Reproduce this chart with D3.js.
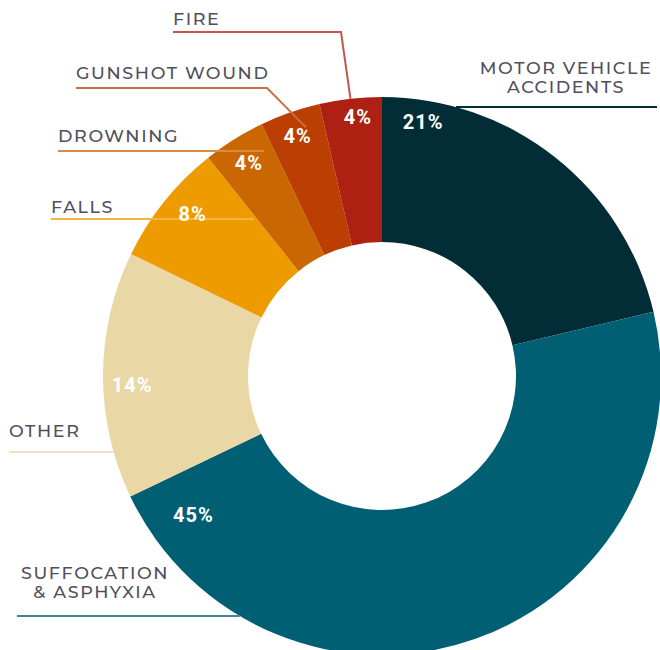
<!DOCTYPE html>
<html>
<head>
<meta charset="utf-8">
<script src="https://cdn.jsdelivr.net/npm/d3@7"></script>
<style>
  html, body { margin: 0; padding: 0; background: #fff; }
  svg { display: block; }
</style>
</head>
<body>
<div class="container"></div>
<script>
const categories = ['MOTOR VEHICLE ACCIDENTS', 'SUFFOCATION & ASPHYXIA', 'OTHER', 'FALLS', 'DROWNING', 'GUNSHOT WOUND', 'FIRE'];
const shares = [21.3, 46.6, 14.3, 7.1, 3.6, 3.5, 3.6];
const pctLabels = ['21%', '45%', '14%', '8%', '4%', '4%', '4%'];
const colors = ['#032d36', '#005f73', '#e9d8a6', '#ee9b00', '#ca6702', '#bb3e03', '#ae2012'];

const width = 660;
const height = 650;
const cx = 382;
const cy = 376;
const outerR = 279;
const innerR = 134;

// where the percentage sits: fraction along the slice, radius
const pctAt = [[0.12, 257], [0.936, 234], [0.455, 250], [0.57, 249], [0.5, 251], [0.49, 254], [0.59, 260]];

// callouts: text block, then leader line
const callouts = [
  { lines: ['MOTOR VEHICLE', 'ACCIDENTS'], tx: 566, ty: 74, lh: 19, anchor: 'middle', ly: 107, x0: 657, x1: 'edge' },
  { lines: ['SUFFOCATION', '& ASPHYXIA'], tx: 95, ty: 579, lh: 19, anchor: 'middle', ly: 616, x0: 17, x1: 'edge' },
  { lines: ['OTHER'], tx: 9, ty: 437, anchor: 'start', ly: 452, x0: 9, x1: 'edge' },
  { lines: ['FALLS'], tx: 51, ty: 213, anchor: 'start', ly: 219, x0: 51, x1: 254 },
  { lines: ['DROWNING'], tx: 58, ty: 142, anchor: 'start', ly: 151, x0: 58, x1: 264 },
  { lines: ['GUNSHOT WOUND'], tx: 76, ty: 79, anchor: 'start', ly: 88, x0: 76, x1: 267, to: [0.68, 260] },
  { lines: ['FIRE'], tx: 173, ty: 25, anchor: 'start', ly: 32, x0: 173, x1: 341, to: [0.5, outerR] },
];

const svg = d3.select('.container')
  .append('svg')
  .attr('width', width)
  .attr('height', height);

const pie = d3.pie().sort(null).value((d) => d);
const arcs = pie(shares);
const arc = d3.arc().innerRadius(innerR).outerRadius(outerR);

const polar = (a, r) => [cx + r * Math.sin(a), cy - r * Math.cos(a)];
const along = (d, f) => d.startAngle + f * (d.endAngle - d.startAngle);

const g = svg.append('g').attr('transform', `translate(${cx},${cy})`);

g.selectAll('path')
  .data(arcs)
  .enter()
  .append('path')
  .attr('d', arc)
  .attr('fill', (d, i) => colors[i]);

// leader lines + names
const leader = svg.append('g');
callouts.forEach((c, i) => {
  let pts;
  if (c.to) {
    pts = [[c.x0, c.ly], [c.x1, c.ly], polar(along(arcs[i], c.to[0]), c.to[1])];
  } else if (c.x1 === 'edge') {
    const dx = Math.sqrt(outerR * outerR - (c.ly - cy) * (c.ly - cy));
    const xe = c.x0 < cx ? cx - dx : cx + dx;
    pts = [[c.x0, c.ly], [xe, c.ly]];
  } else {
    pts = [[c.x0, c.ly], [c.x1, c.ly]];
  }
  leader.append('path')
    .attr('d', d3.line()(pts))
    .attr('fill', 'none')
    .attr('stroke', d3.interpolateRgb(colors[i], '#fff')(i === 0 ? 0 : 0.25))
    .attr('stroke-width', 2);

  const t = svg.append('text')
    .attr('x', c.tx)
    .attr('y', c.ty)
    .attr('text-anchor', c.anchor)
    .attr('fill', '#4f4f5c')
    .style('font-family', 'Montserrat, "Open Sans", sans-serif')
    .style('font-size', '17.5px')
    .style('font-weight', 500)
    .style('letter-spacing', '1.6px');
  c.lines.forEach((l, k) => {
    t.append('tspan').attr('x', c.tx).attr('dy', k === 0 ? 0 : c.lh).text(l);
  });
});

// percentages
svg.append('g')
  .selectAll('text')
  .data(arcs)
  .enter()
  .append('text')
  .attr('x', (d, i) => polar(along(d, pctAt[i][0]), pctAt[i][1])[0])
  .attr('y', (d, i) => polar(along(d, pctAt[i][0]), pctAt[i][1])[1])
  .attr('text-anchor', 'middle')
  .attr('dominant-baseline', 'central')
  .attr('fill', '#fff')
  .style('font-family', 'Roboto, sans-serif')
  .style('font-weight', 700)
  .style('font-size', '20px')
  .style('letter-spacing', '1px')
  .text((d, i) => pctLabels[i]);
</script>
</body>
</html>
